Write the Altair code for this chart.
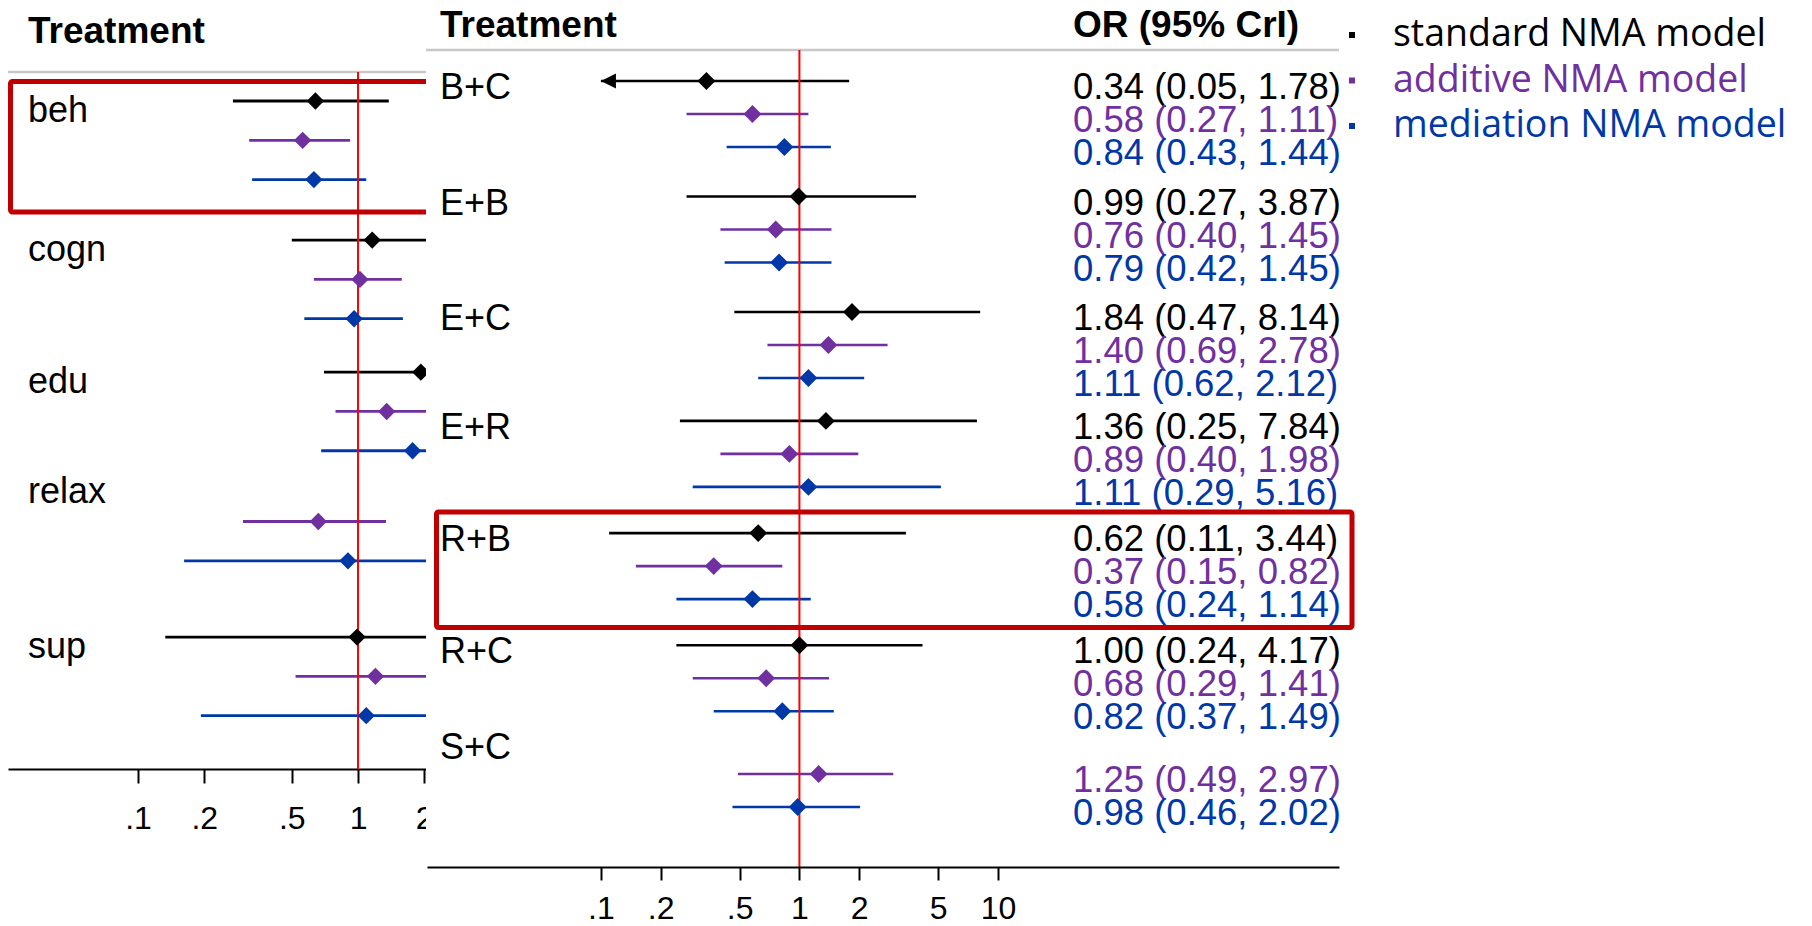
import altair as alt
import pandas as pd

# ---------------- data ----------------
models = ["standard NMA model", "additive NMA model", "mediation NMA model"]
model_colors = ["#000000", "#7030A0", "#0038A8"]

# left panel (single-component effects)
left_treat = ["beh", "cogn", "edu", "relax", "sup"]
left_group_row = [0, 3.54, 6.9, 9.7, 13.64]
left_est_std = [0.64, 1.16, 1.93, None, 0.99]
left_lo_std = [0.27, 0.50, 0.70, None, 0.133]
left_hi_std = [1.38, 2.70, 5.00, None, 7.00]
left_est_add = [0.56, 1.02, 1.35, 0.66, 1.20]
left_lo_add = [0.32, 0.63, 0.79, 0.30, 0.52]
left_hi_add = [0.92, 1.58, 2.30, 1.34, 2.80]
left_est_med = [0.63, 0.96, 1.77, 0.90, 1.09]
left_lo_med = [0.33, 0.57, 0.68, 0.162, 0.193]
left_hi_med = [1.09, 1.60, 4.60, 5.00, 6.00]

# right panel (combinations) – values printed in the OR column
right_treat = ["B+C", "E+B", "E+C", "E+R", "R+B", "R+C", "S+C"]
right_group_row = [0, 3.5, 7, 10.3, 13.7, 17.1, 20]
right_est_std = [0.34, 0.99, 1.84, 1.36, 0.62, 1.00, None]
right_lo_std = [0.05, 0.27, 0.47, 0.25, 0.11, 0.24, None]
right_hi_std = [1.78, 3.87, 8.14, 7.84, 3.44, 4.17, None]
right_est_add = [0.58, 0.76, 1.40, 0.89, 0.37, 0.68, 1.25]
right_lo_add = [0.27, 0.40, 0.69, 0.40, 0.15, 0.29, 0.49]
right_hi_add = [1.11, 1.45, 2.78, 1.98, 0.82, 1.41, 2.97]
right_est_med = [0.84, 0.79, 1.11, 1.11, 0.58, 0.82, 0.98]
right_lo_med = [0.43, 0.42, 0.62, 0.29, 0.24, 0.37, 0.46]
right_hi_med = [1.44, 1.45, 2.12, 5.16, 1.14, 1.49, 2.02]

left_ticks = [0.1, 0.2, 0.5, 1, 2]
right_ticks = [0.1, 0.2, 0.5, 1, 2, 5, 10]
right_min_shown = 0.1


def build(treats, group_rows, ests, los, his):
    recs = []
    for gi, t in enumerate(treats):
        for mi, m in enumerate(models):
            e = ests[mi][gi]
            if e is None:
                continue
            recs.append(dict(treat=t, model=m, row=group_rows[gi] + mi,
                             est=e, lo=los[mi][gi], hi=his[mi][gi]))
    return pd.DataFrame(recs)


left_df = build(left_treat, left_group_row,
                [left_est_std, left_est_add, left_est_med],
                [left_lo_std, left_lo_add, left_lo_med],
                [left_hi_std, left_hi_add, left_hi_med])
right_df = build(right_treat, right_group_row,
                 [right_est_std, right_est_add, right_est_med],
                 [right_lo_std, right_lo_add, right_lo_med],
                 [right_hi_std, right_hi_add, right_hi_med])
right_df["lo_shown"] = right_df["lo"].clip(lower=right_min_shown)
right_df["label"] = right_df.apply(
    lambda r: f"{r.est:.2f} ({r.lo:.2f}, {r.hi:.2f})", axis=1)
arrow_df = right_df[right_df["lo"] < right_min_shown]

left_lab = pd.DataFrame({"treat": left_treat, "row": left_group_row})
right_lab = pd.DataFrame({"treat": right_treat, "row": right_group_row})
ref_df = pd.DataFrame({"ref": [1]})
one = pd.DataFrame({"k": [0]})
legend_df = pd.DataFrame({"model": models})

# ---------------- scales ----------------
FONT = "Liberation Sans"
color_scale = alt.Scale(domain=models, range=model_colors)
LX = alt.Scale(type="log", domain=[0.02564, 2.037], range=[8, 426], nice=False)
LY = alt.Scale(domain=[0, 16], range=[101, 729.8], nice=False, zero=False)
RX = alt.Scale(type="log", domain=[0.0133, 522.7], range=[427, 1339], nice=False)
RY = alt.Scale(domain=[0, 23], range=[81, 840], nice=False, zero=False)

tick_label_expr = "datum.value < 1 ? slice(toString(datum.value), 1) : toString(datum.value)"


def axis(values, offset, tick, pad, z):
    return alt.Axis(orient="bottom", offset=offset, values=values,
                    labelExpr=tick_label_expr, tickSize=tick, tickWidth=2,
                    domainWidth=2, domainColor="black", tickColor="black",
                    labelFont=FONT, labelFontSize=32, labelColor="black",
                    labelPadding=pad, grid=False, title=None,
                    labelFlush=False, labelOverlap=False, zindex=z)


col = alt.Color("model:N", scale=color_scale, legend=None)

# ---------------- left panel ----------------
l_head_line = alt.Chart(one).mark_rule(color="#C8C8C8", strokeWidth=2.5).encode(
    x=alt.value(8), x2=alt.value(426), y=alt.value(72))
l_head = alt.Chart(one).mark_text(text="Treatment", font=FONT, fontSize=37,
                                  fontWeight="bold", align="left",
                                  baseline="alphabetic", color="black").encode(
    x=alt.value(28), y=alt.value(43))
l_labels = alt.Chart(left_lab).mark_text(font=FONT, fontSize=36, align="left",
                                         baseline="alphabetic", dy=21,
                                         color="black").encode(
    x=alt.value(28), y=alt.Y("row:Q", scale=LY, axis=None), text="treat:N")
l_ci = alt.Chart(left_df).mark_rule(strokeWidth=2.8).encode(
    x=alt.X("lo:Q", scale=LX, axis=axis(left_ticks, -157, 14, 20, 0)),
    x2="hi:Q",
    y=alt.Y("row:Q", scale=LY, axis=None), color=col)
l_ref = alt.Chart(ref_df).mark_rule(color="#FF0000", strokeWidth=2).encode(
    x=alt.X("ref:Q", scale=LX, axis=None), y=alt.value(72), y2=alt.value(769))
l_pts = alt.Chart(left_df).mark_point(shape="diamond", filled=True, size=300,
                                      opacity=1, strokeWidth=0).encode(
    x=alt.X("est:Q", scale=LX, axis=None),
    y=alt.Y("row:Q", scale=LY, axis=None), color=col)
l_box = alt.Chart(one).mark_rect(filled=False, stroke="#C00000", strokeWidth=5,
                                 cornerRadius=2).encode(
    x=alt.value(10.5), x2=alt.value(450), y=alt.value(81.5), y2=alt.value(212))

# right panel sits on top of the left one
cover = alt.Chart(one).mark_rect(color="white").encode(
    x=alt.value(426), x2=alt.value(1812), y=alt.value(0), y2=alt.value(926))

# ---------------- right panel ----------------
r_head_line = alt.Chart(one).mark_rule(color="#C8C8C8", strokeWidth=2.5).encode(
    x=alt.value(426), x2=alt.value(1339), y=alt.value(50))
r_head1 = alt.Chart(one).mark_text(text="Treatment", font=FONT, fontSize=37,
                                   fontWeight="bold", align="left",
                                   baseline="alphabetic", color="black").encode(
    x=alt.value(440), y=alt.value(37))
r_head2 = alt.Chart(one).mark_text(text="OR (95% CrI)", font=FONT, fontSize=37,
                                   fontWeight="bold", align="left",
                                   baseline="alphabetic", color="black").encode(
    x=alt.value(1073), y=alt.value(37))
r_labels = alt.Chart(right_lab).mark_text(font=FONT, fontSize=36, align="left",
                                          baseline="alphabetic", dy=18,
                                          color="black").encode(
    x=alt.value(440), y=alt.Y("row:Q", scale=RY, axis=None), text="treat:N")
r_ci = alt.Chart(right_df).mark_rule(strokeWidth=2.6).encode(
    x=alt.X("lo_shown:Q", scale=RX, axis=axis(right_ticks, -59, 13, 13, 1)),
    x2="hi:Q",
    y=alt.Y("row:Q", scale=RY, axis=None), color=col)
r_arrow = alt.Chart(arrow_df).mark_point(shape="M0,0L2,-1L2,1Z", filled=True,
                                         size=225, opacity=1,
                                         strokeWidth=0).encode(
    x=alt.X("lo_shown:Q", scale=RX, axis=None),
    y=alt.Y("row:Q", scale=RY, axis=None), color=col)
r_ref = alt.Chart(ref_df).mark_rule(color="#FF0000", strokeWidth=2).encode(
    x=alt.X("ref:Q", scale=RX, axis=None), y=alt.value(50), y2=alt.value(867))
r_pts = alt.Chart(right_df).mark_point(shape="diamond", filled=True, size=320,
                                       opacity=1, strokeWidth=0).encode(
    x=alt.X("est:Q", scale=RX, axis=None),
    y=alt.Y("row:Q", scale=RY, axis=None), color=col)
r_txt = alt.Chart(right_df).mark_text(font=FONT, fontSize=36.5, align="left",
                                      baseline="alphabetic", dy=18).encode(
    x=alt.value(1073), y=alt.Y("row:Q", scale=RY, axis=None),
    text="label:N", color=col)
r_box = alt.Chart(one).mark_rect(filled=False, stroke="#C00000", strokeWidth=5,
                                 cornerRadius=2).encode(
    x=alt.value(436.5), x2=alt.value(1352), y=alt.value(512), y2=alt.value(627.5))

LEGY = alt.Scale(domain=models, range=[35, 126], padding=0)
leg_sq = alt.Chart(legend_df).mark_square(size=36, opacity=1).encode(
    x=alt.value(1352), y=alt.Y("model:N", scale=LEGY, axis=None), color=col)
leg_txt = alt.Chart(legend_df).mark_text(font="Open Sans", fontSize=37.5,
                                         align="left", baseline="alphabetic",
                                         dy=11).encode(
    x=alt.value(1393), y=alt.Y("model:N", scale=LEGY, axis=None),
    text="model:N", color=col)

chart = alt.layer(
    l_head_line, l_head, l_labels, l_ci, l_ref, l_pts, l_box,
    cover,
    r_head_line, r_head1, r_head2, r_labels, r_ci, r_arrow, r_ref, r_pts,
    r_txt, r_box, leg_sq, leg_txt,
).resolve_scale(
    x="independent", y="independent", color="independent"
).properties(
    width=1812, height=926, padding=0,
    autosize=alt.AutoSizeParams(type="none"),
    background="white",
).configure_view(stroke=None)

chart.save("out.html", embed_options={"renderer": "svg", "actions": False})
